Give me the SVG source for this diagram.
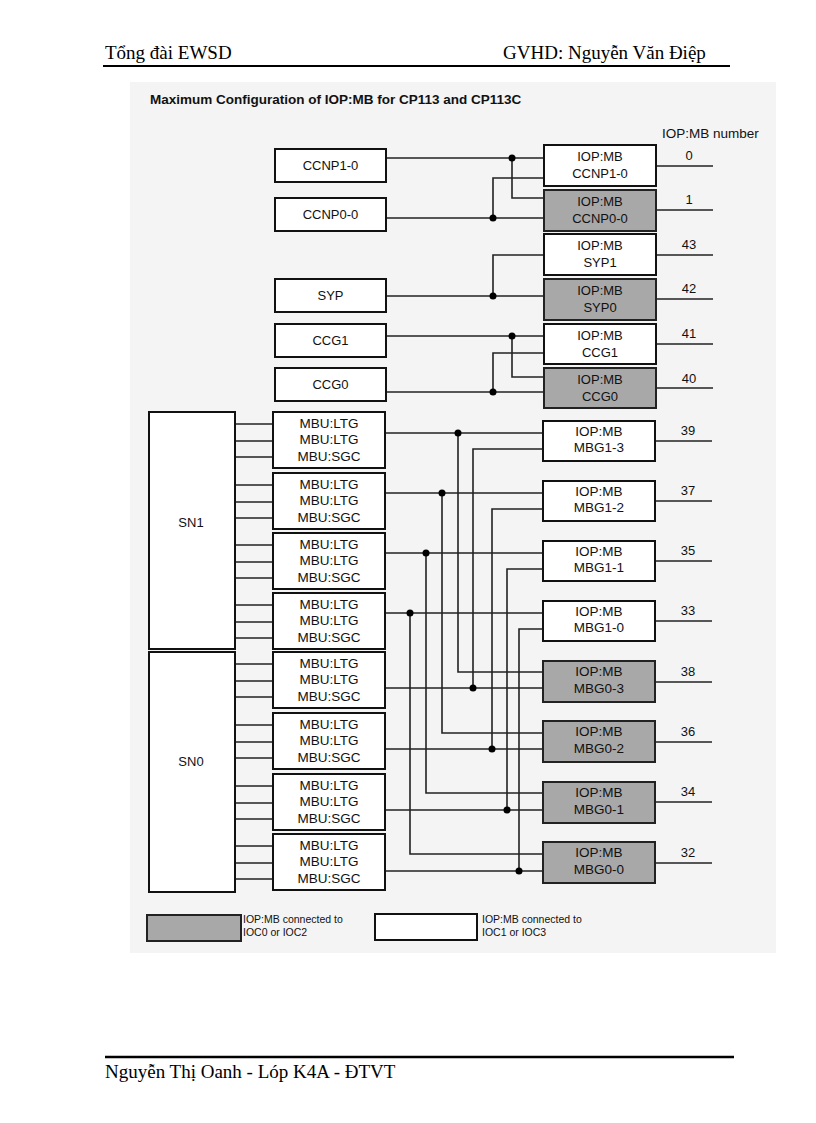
<svg xmlns="http://www.w3.org/2000/svg" width="816" height="1123" viewBox="0 0 816 1123">
<style>
.page{font-family:"Liberation Serif","Times New Roman",serif;font-size:19px;fill:#000}
.t{font-family:"Liberation Sans",Arial,sans-serif;font-size:13px;fill:#111;text-anchor:middle}
.m{font-family:"Liberation Sans",Arial,sans-serif;font-size:13.5px;fill:#111;text-anchor:middle}
.title{font-family:"Liberation Sans",Arial,sans-serif;font-size:13.5px;font-weight:bold;fill:#111}
.lg{font-family:"Liberation Sans",Arial,sans-serif;font-size:10.5px;fill:#111}
.w{fill:#fff;stroke:#111;stroke-width:2}
.g{fill:#a8a8a8;stroke:#222;stroke-width:2}
.c{fill:none;stroke:#222;stroke-width:1.6}
.d{fill:#000}
</style>
<rect width="816" height="1123" fill="#fff"/>
<!-- page header/footer -->
<g id="header">
<text class="page" x="105" y="59">Tổng đài EWSD</text>
<text class="page" x="503" y="59">GVHD: Nguyễn Văn Điệp</text>
<line x1="103" y1="66" x2="730" y2="66" stroke="#000" stroke-width="2"/>
</g>
<g id="footer">
<line x1="105" y1="1057" x2="734" y2="1057" stroke="#000" stroke-width="2.5"/>
<text class="page" x="105" y="1078">Nguyễn Thị Oanh - Lóp K4A - ĐTVT</text>
</g>
<rect id="panel" x="130" y="82" width="646" height="871" fill="#f4f4f4"/>
<text class="title" x="150" y="104">Maximum Configuration of IOP:MB for CP113 and CP113C</text>
<text class="t" x="662" y="138" style="text-anchor:start;font-size:13.5px">IOP:MB number</text>

<!-- connectors -->
<g id="connectors">
<path class="c" d="M386,158H544M512,158V198H544M386,218H544M493,218V178H544M386,296H544M493,296V255H544M386,336H544M512,336V377H544M386,392H544M493,392V353H544"/>
<path class="c" d="M656,166H713M656,210H713M656,255H713M656,299H713M656,344H713M656,388H713"/>
<path class="c" d="M235,424H273M235,441H273M235,457H273M235,485H273M235,502H273M235,518H273M235,545H273M235,562H273M235,578H273M235,605H273M235,622H273M235,638H273M235,664H273M235,681H273M235,697H273M235,725H273M235,742H273M235,758H273M235,786H273M235,803H273M235,819H273M235,846H273M235,863H273M235,879H273"/>
<path class="c" d="M385,433H543M458,433V672H543M385,493H543M442,493V733H543M385,553H543M426,553V793H543M385,613H543M410,613V854H543M385,688H543M473,688V449H543M385,749H543M492,749V509H543M385,810H543M507,810V569H543M385,871H543M519,871V629H543"/>
<path class="c" d="M655,441H712M655,501H712M655,561H712M655,621H712M655,682H712M655,742H712M655,802H712M655,863H712"/>
<g class="d">
<circle cx="512" cy="158" r="3.5"/><circle cx="493" cy="218" r="3.5"/><circle cx="493" cy="296" r="3.5"/><circle cx="512" cy="336" r="3.5"/><circle cx="493" cy="392" r="3.5"/>
<circle cx="458" cy="433" r="3.5"/><circle cx="442" cy="493" r="3.5"/><circle cx="426" cy="553" r="3.5"/><circle cx="410" cy="613" r="3.5"/>
<circle cx="473" cy="688" r="3.5"/><circle cx="492" cy="749" r="3.5"/><circle cx="507" cy="810" r="3.5"/><circle cx="519" cy="871" r="3.5"/>
</g>
</g>

<!-- top left nodes -->
<g id="n-ccnp1"><rect class="w" x="275" y="149" width="111" height="33"/><text class="t" x="330.5" y="170">CCNP1-0</text></g>
<g id="n-ccnp0"><rect class="w" x="275" y="198" width="111" height="33"/><text class="t" x="330.5" y="219">CCNP0-0</text></g>
<g id="n-syp"><rect class="w" x="275" y="279" width="111" height="33"/><text class="t" x="330.5" y="300">SYP</text></g>
<g id="n-ccg1"><rect class="w" x="275" y="324" width="111" height="33"/><text class="t" x="330.5" y="345">CCG1</text></g>
<g id="n-ccg0"><rect class="w" x="275" y="368" width="111" height="33"/><text class="t" x="330.5" y="389">CCG0</text></g>

<!-- top IOP nodes -->
<g id="iop-0"><rect class="w" x="544" y="145" width="112" height="41"/><text class="t" x="600" y="161">IOP:MB</text><text class="t" x="600" y="178">CCNP1-0</text><text class="t" x="689" y="160">0</text></g>
<g id="iop-1"><rect class="g" x="544" y="190" width="112" height="41"/><text class="t" x="600" y="206">IOP:MB</text><text class="t" x="600" y="223">CCNP0-0</text><text class="t" x="689" y="204">1</text></g>
<g id="iop-43"><rect class="w" x="544" y="234" width="112" height="41"/><text class="t" x="600" y="250">IOP:MB</text><text class="t" x="600" y="267">SYP1</text><text class="t" x="689" y="249">43</text></g>
<g id="iop-42"><rect class="g" x="544" y="279" width="112" height="41"/><text class="t" x="600" y="295">IOP:MB</text><text class="t" x="600" y="312">SYP0</text><text class="t" x="689" y="293">42</text></g>
<g id="iop-41"><rect class="w" x="544" y="324" width="112" height="40"/><text class="t" x="600" y="340">IOP:MB</text><text class="t" x="600" y="357">CCG1</text><text class="t" x="689" y="338">41</text></g>
<g id="iop-40"><rect class="g" x="544" y="368" width="112" height="40"/><text class="t" x="600" y="384">IOP:MB</text><text class="t" x="600" y="401">CCG0</text><text class="t" x="689" y="383">40</text></g>

<!-- SN blocks -->
<g id="sn1"><rect class="w" x="149" y="412" width="86" height="237"/><text class="t" x="191" y="527">SN1</text></g>
<g id="sn0"><rect class="w" x="149" y="652" width="86" height="240"/><text class="t" x="191" y="766">SN0</text></g>

<!-- MBU boxes -->
<g id="mbu-1"><rect class="w" x="273" y="412" width="112" height="56"/><text class="m" x="329" y="428">MBU:LTG</text><text class="m" x="329" y="444">MBU:LTG</text><text class="m" x="329" y="460.5">MBU:SGC</text></g>
<g id="mbu-2"><rect class="w" x="273" y="473" width="112" height="56"/><text class="m" x="329" y="489">MBU:LTG</text><text class="m" x="329" y="505">MBU:LTG</text><text class="m" x="329" y="521.5">MBU:SGC</text></g>
<g id="mbu-3"><rect class="w" x="273" y="533" width="112" height="56"/><text class="m" x="329" y="549">MBU:LTG</text><text class="m" x="329" y="565">MBU:LTG</text><text class="m" x="329" y="581.5">MBU:SGC</text></g>
<g id="mbu-4"><rect class="w" x="273" y="593" width="112" height="56"/><text class="m" x="329" y="609">MBU:LTG</text><text class="m" x="329" y="625">MBU:LTG</text><text class="m" x="329" y="641.5">MBU:SGC</text></g>
<g id="mbu-5"><rect class="w" x="273" y="652" width="112" height="56"/><text class="m" x="329" y="668">MBU:LTG</text><text class="m" x="329" y="684">MBU:LTG</text><text class="m" x="329" y="700.5">MBU:SGC</text></g>
<g id="mbu-6"><rect class="w" x="273" y="713" width="112" height="56"/><text class="m" x="329" y="729">MBU:LTG</text><text class="m" x="329" y="745">MBU:LTG</text><text class="m" x="329" y="761.5">MBU:SGC</text></g>
<g id="mbu-7"><rect class="w" x="273" y="774" width="112" height="56"/><text class="m" x="329" y="790">MBU:LTG</text><text class="m" x="329" y="806">MBU:LTG</text><text class="m" x="329" y="822.5">MBU:SGC</text></g>
<g id="mbu-8"><rect class="w" x="273" y="834" width="112" height="56"/><text class="m" x="329" y="850">MBU:LTG</text><text class="m" x="329" y="866">MBU:LTG</text><text class="m" x="329" y="882.5">MBU:SGC</text></g>

<!-- MBG IOP boxes -->
<g id="iop-39"><rect class="w" x="543" y="421" width="112" height="40"/><text class="m" x="599" y="435.5">IOP:MB</text><text class="m" x="599" y="452">MBG1-3</text><text class="t" x="688" y="435">39</text></g>
<g id="iop-37"><rect class="w" x="543" y="481" width="112" height="40"/><text class="m" x="599" y="495.5">IOP:MB</text><text class="m" x="599" y="512">MBG1-2</text><text class="t" x="688" y="495">37</text></g>
<g id="iop-35"><rect class="w" x="543" y="541" width="112" height="40"/><text class="m" x="599" y="555.5">IOP:MB</text><text class="m" x="599" y="572">MBG1-1</text><text class="t" x="688" y="555">35</text></g>
<g id="iop-33"><rect class="w" x="543" y="601" width="112" height="40"/><text class="m" x="599" y="615.5">IOP:MB</text><text class="m" x="599" y="632">MBG1-0</text><text class="t" x="688" y="615">33</text></g>
<g id="iop-38"><rect class="g" x="543" y="661" width="112" height="41"/><text class="m" x="599" y="676">IOP:MB</text><text class="m" x="599" y="693">MBG0-3</text><text class="t" x="688" y="676">38</text></g>
<g id="iop-36"><rect class="g" x="543" y="721" width="112" height="41"/><text class="m" x="599" y="736">IOP:MB</text><text class="m" x="599" y="753">MBG0-2</text><text class="t" x="688" y="736">36</text></g>
<g id="iop-34"><rect class="g" x="543" y="782" width="112" height="41"/><text class="m" x="599" y="797">IOP:MB</text><text class="m" x="599" y="814">MBG0-1</text><text class="t" x="688" y="796">34</text></g>
<g id="iop-32"><rect class="g" x="543" y="842" width="112" height="41"/><text class="m" x="599" y="857">IOP:MB</text><text class="m" x="599" y="874">MBG0-0</text><text class="t" x="688" y="857">32</text></g>

<!-- legend -->
<g id="legend-grey"><rect class="g" x="147" y="915" width="94" height="26"/><text class="lg" x="243" y="923">IOP:MB connected to</text><text class="lg" x="243" y="936">IOC0 or IOC2</text></g>
<g id="legend-white"><rect class="w" x="375" y="914" width="102" height="26"/><text class="lg" x="482" y="923">IOP:MB connected to</text><text class="lg" x="482" y="936">IOC1 or IOC3</text></g>
</svg>
